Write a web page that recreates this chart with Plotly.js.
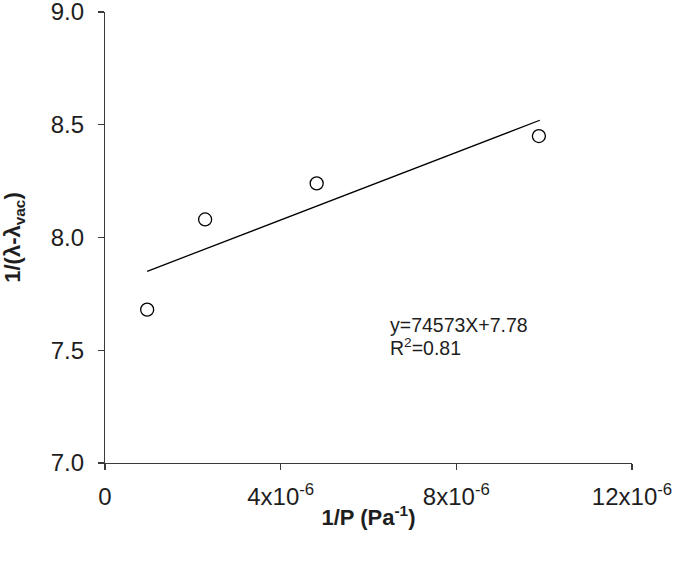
<!DOCTYPE html>
<html>
<head>
<meta charset="utf-8">
<script src="https://cdn.plot.ly/plotly-3.0.1.min.js"></script>
<style>html,body{margin:0;padding:0;background:#fff;}#chart{width:675px;height:562px;}</style>
</head>
<body>
<div id="chart"></div>
<script>
// Data
const invP = [0.96e-6, 2.28e-6, 4.82e-6, 9.88e-6];
const invLambda = [7.68, 8.08, 8.24, 8.45];
const fitX = [0.96e-6, 9.9e-6];
const fitY = [7.85, 8.52];
const xTickVals = [0, 4e-6, 8e-6, 12e-6];
const xTickText = ['0', '4x10<sup>-6</sup>', '8x10<sup>-6</sup>', '12x10<sup>-6</sup>'];
const yTickVals = [7.0, 7.5, 8.0, 8.5, 9.0];
const eqLine1 = 'y=74573X+7.78';
const eqLine2 = 'R<sup>2</sup>=0.81';

const font = 'Liberation Sans, Arial, sans-serif';
const axisColor = '#3a3a3a';
const textColor = '#1e1e1e';

const traces = [
  {
    x: fitX, y: fitY, mode: 'lines', type: 'scatter',
    line: {color: '#000', width: 1.3}, hoverinfo: 'skip', showlegend: false
  },
  {
    x: invP, y: invLambda, mode: 'markers', type: 'scatter',
    marker: {symbol: 'circle-open', size: 13, color: '#000', line: {width: 1.3, color: '#000'}},
    showlegend: false
  }
];

const layout = {
  width: 675, height: 562,
  margin: {l: 105, r: 43, t: 12, b: 99},
  paper_bgcolor: '#fff', plot_bgcolor: '#fff',
  font: {family: font, color: textColor},
  showlegend: false,
  xaxis: {
    range: [0, 12e-6], tickvals: xTickVals, ticktext: xTickText,
    showgrid: false, zeroline: false, showline: true, linecolor: axisColor, linewidth: 1.2,
    ticks: 'outside', ticklen: 6, tickcolor: axisColor, tickwidth: 1.2,
    ticklabelstandoff: 6, ticklabeloverflow: 'allow',
    tickfont: {size: 24, family: font, color: textColor},
    title: {text: '<b>1/P (Pa<sup>-1</sup>)</b>', font: {size: 22, family: font, color: textColor}, standoff: 0}
  },
  yaxis: {
    range: [7.0, 9.0], tickvals: yTickVals, tickformat: '.1f',
    showgrid: false, zeroline: false, showline: true, linecolor: axisColor, linewidth: 1.2,
    ticks: 'outside', ticklen: 6, tickcolor: axisColor, tickwidth: 1.2,
    ticklabelstandoff: 9, ticklabeloverflow: 'allow',
    tickfont: {size: 24, family: font, color: textColor},
    title: {text: '<b>1/(λ-λ<sub>vac</sub>)</b>', font: {size: 22, family: font, color: textColor}, standoff: 26}
  },
  annotations: [
    {
      x: 6.45e-6, y: 7.613, xref: 'x', yref: 'y', xanchor: 'left', yanchor: 'middle',
      text: eqLine1, showarrow: false, align: 'left',
      font: {size: 19.5, family: font, color: textColor}
    },
    {
      x: 6.45e-6, y: 7.515, xref: 'x', yref: 'y', xanchor: 'left', yanchor: 'middle',
      text: eqLine2, showarrow: false, align: 'left',
      font: {size: 19.5, family: font, color: textColor}
    }
  ]
};

Plotly.newPlot('chart', traces, layout, {displayModeBar: false, staticPlot: true});
</script>
</body>
</html>
